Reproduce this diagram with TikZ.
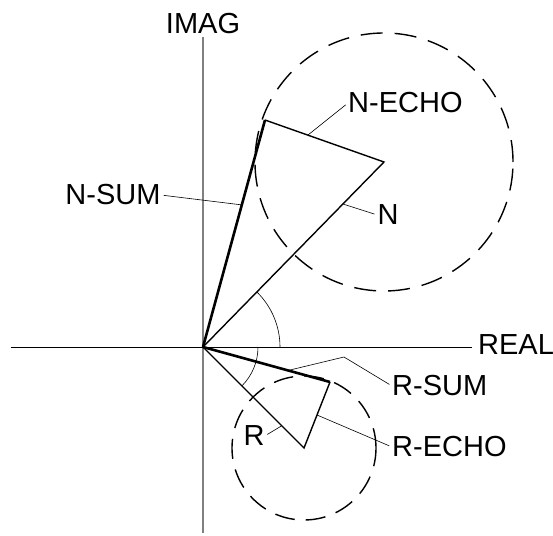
\documentclass[tikz,border=0pt]{standalone}
\usepackage{fontspec}
\setmainfont{Liberation Sans}
\usetikzlibrary{positioning,calc}
\definecolor{Ink}{HTML}{000000}
\definecolor{AxisGrey}{HTML}{808080}

\tikzset{
	axisline/.style={draw=Ink, line width=1pt},
	imagaxis/.style={draw=AxisGrey, line width=1.6pt},
	sumvec/.style={draw=Ink, line width=2.6pt},
	vecline/.style={draw=Ink, line width=1.4pt},
	echocircle/.style={draw=Ink, line width=1.4pt, dash pattern=on 22pt off 12pt},
	anglearc/.style={draw=Ink, line width=0.6pt},
	leader/.style={draw=Ink, line width=0.6pt, shorten <=3pt},
	tag/.style={inner sep=0pt, font=\fontsize{29}{30}\selectfont}
}

\begin{document}
\begin{tikzpicture}[x=1pt,y=1pt]
	\useasboundingbox (-203,-188) rectangle (350,347);
	
	% axes
	\coordinate (O) at (0,0);
	\coordinate (ImTop) at (0,310);
	\coordinate (ImBot) at (0,-186);
	\coordinate (ReLeft) at (-192,0);
	\coordinate (ReRight) at (269,0);
	\draw[imagaxis] (ImBot) -- (ImTop);
	\draw[axisline] (ReLeft) -- (ReRight);
	\node[tag] (ImagTag) at (0,323) {IMAG};
	\node[tag, anchor=west] (RealTag) at (275,2) {REAL};
	
	% phasor tips
	\coordinate (NTip) at (181,185);
	\coordinate (NSumTip) at (62,227);
	\coordinate (RTip) at (101,-101);
	\coordinate (RSumTip) at (127,-35);
	
	% echo circles
	\draw[echocircle] (NTip) circle[radius=129];
	\draw[echocircle, dash pattern=on 20pt off 11pt] (RTip) circle[radius=72];
	
	% triangles
	\draw[vecline] (O) -- (NTip) -- (NSumTip);
	\draw[sumvec] (O) -- (NSumTip);
	\draw[vecline] (O) -- (RTip) -- (RSumTip);
	\draw[sumvec] (O) -- (RSumTip);
	
	% angles
	\draw[anglearc] ($(O)+(77,0)$) arc[start angle=0, end angle=45.6, radius=77];
	\draw[anglearc] ($(O)+(55,0)$) arc[start angle=0, end angle=-44.7, radius=55];
	
	% labels and leaders
	\node[tag] (NSumTag) at (-90,152) {N-SUM};
	\node[tag, anchor=west] (NEchoTag) at (145,244) {N-ECHO};
	\node[tag] (NTag) at (185,132) {N};
	\node[tag, anchor=west] (RSumTag) at (189,-39) {R-SUM};
	\node[tag, anchor=west] (REchoTag) at (189,-100) {R-ECHO};
	\node[tag] (RTag) at (51,-89) {R};
	
	\draw[leader] (NSumTag.east) -- ($(O)!0.626!(NSumTip)$);
	\draw[leader] (NEchoTag.west) -- ($(NSumTip)!0.36!(NTip)$);
	\draw[leader] (NTag.west) -- ($(O)!0.773!(NTip)$);
	\coordinate (RSumBend) at (141,-10);
	\draw[leader] (RSumTag.west) -- (RSumBend) -- ($(O)!0.67!(RSumTip)$);
	\draw[leader] (REchoTag.west) -- ($(RSumTip)!0.5!(RTip)$);
	\draw[leader] (RTag.east) -- ($(O)!0.78!(RTip)$);
\end{tikzpicture}
\end{document}
